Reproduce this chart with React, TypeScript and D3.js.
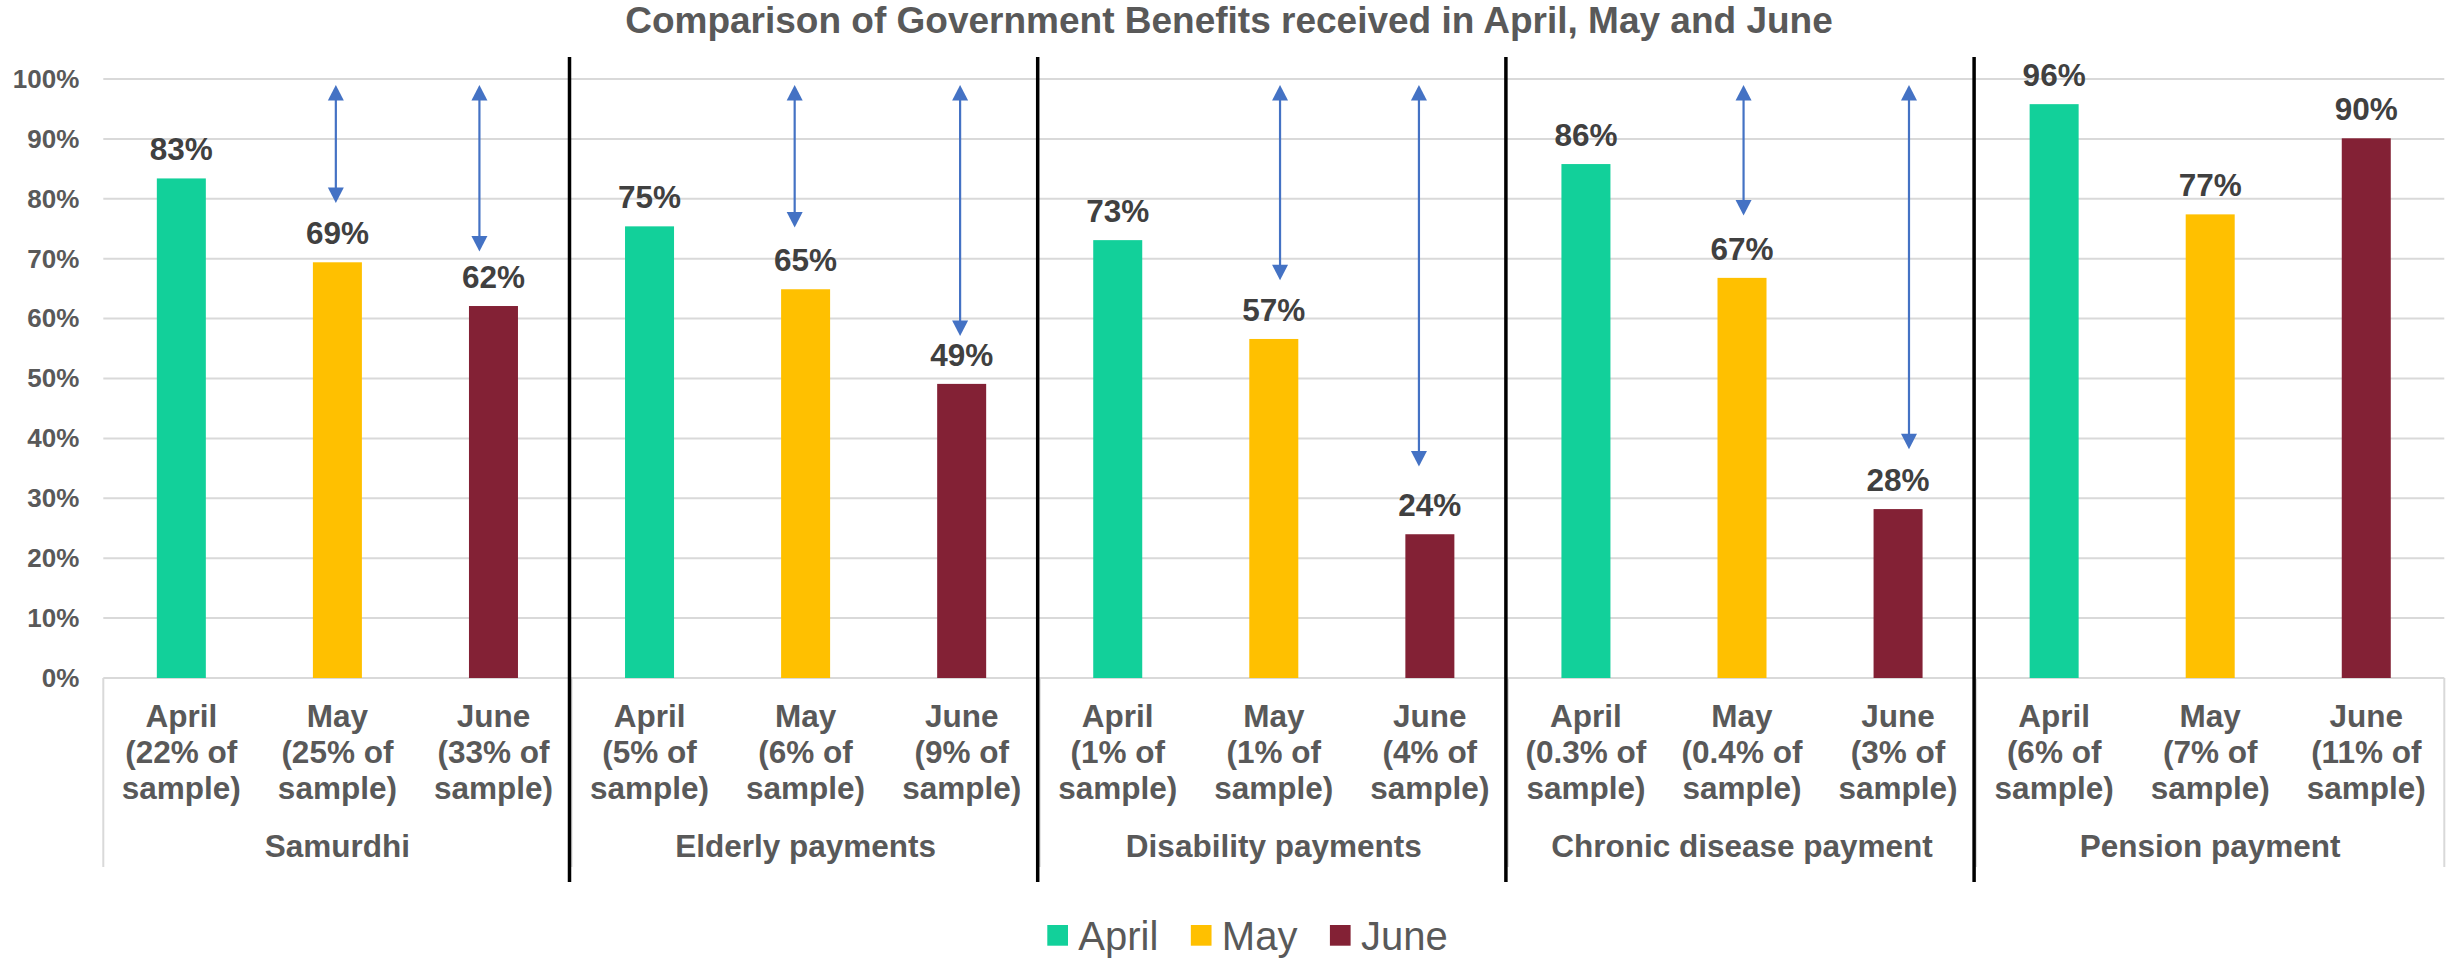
import { useEffect, useRef } from 'react';
import * as d3 from 'd3';

const groups = ['Samurdhi', 'Elderly payments', 'Disability payments', 'Chronic disease payment', 'Pension payment'];
const months = ['April', 'May', 'June'];
const monthColors = ['#12D09A', '#FFC000', '#832135'];

// percent receiving the benefit, per group
const aprilValues = [83.4, 75.4, 73.1, 85.8, 95.8];
const mayValues = [69.4, 64.9, 56.6, 66.8, 77.4];
const juneValues = [62.1, 49.1, 24.0, 28.2, 90.1];

// share of the sample, shown under each month label
const sampleShares = [
  ['22%', '25%', '33%'],
  ['5%', '6%', '9%'],
  ['1%', '1%', '4%'],
  ['0.3%', '0.4%', '3%'],
  ['6%', '7%', '11%']
];

const yTicks = [0, 10, 20, 30, 40, 50, 60, 70, 80, 90, 100];

// drop arrows: from the top of the scale down to the value, shift is a fraction of a slot
const dropArrows = [
  { group: 0, month: 1, from: 99, to: 79.3, shift: -0.01 },
  { group: 0, month: 2, from: 99, to: 71.2, shift: -0.09 },
  { group: 1, month: 1, from: 99, to: 75.2, shift: -0.07 },
  { group: 1, month: 2, from: 99, to: 57.1, shift: -0.01 },
  { group: 2, month: 1, from: 99, to: 66.4, shift: 0.04 },
  { group: 2, month: 2, from: 99, to: 35.3, shift: -0.07 },
  { group: 3, month: 1, from: 99, to: 77.2, shift: 0.01 },
  { group: 3, month: 2, from: 99, to: 38.2, shift: 0.07 }
];

const FONT = '"Liberation Sans", Arial, sans-serif';
const W = 2461;
const H = 959;

export default function App() {
  const svgRef = useRef<SVGSVGElement>(null);

  useEffect(() => {
    if (!svgRef.current) return;
    const svg = d3.select(svgRef.current);
    svg.selectAll('*').remove();

    const left = 103.3;
    const right = 2444.3;
    const y = d3.scaleLinear().domain([0, 100]).range([678, 79]);

    const seriesValues = [aprilValues, mayValues, juneValues];
    const rows = groups.flatMap((g, gi) =>
      months.map((m, mi) => ({ key: `${gi}-${mi}`, group: gi, month: mi, value: seriesValues[mi][gi] }))
    );

    const x = d3.scaleBand<string>()
      .domain(rows.map(r => r.key))
      .range([left, right])
      .paddingInner(0.686)
      .paddingOuter(0.343);
    const step = x.step();
    const center = (k: string) => (x(k) ?? 0) + x.bandwidth() / 2;

    // title
    svg.append('text')
      .attr('x', 1229)
      .attr('y', 33)
      .attr('text-anchor', 'middle')
      .attr('font-family', FONT)
      .attr('font-weight', 'bold')
      .attr('font-size', 37)
      .attr('fill', '#595959')
      .text('Comparison of Government Benefits received in April, May and June');

    // gridlines
    svg.append('g')
      .selectAll('line')
      .data(yTicks)
      .enter()
      .append('line')
      .attr('x1', left)
      .attr('x2', right)
      .attr('y1', d => y(d))
      .attr('y2', d => y(d))
      .attr('stroke', '#D9D9D9')
      .attr('stroke-width', 2);

    // y axis labels
    const yAxis = d3.axisLeft(y)
      .tickValues(yTicks)
      .tickFormat(d => `${d}%`)
      .tickSize(0)
      .tickPadding(24);
    const yg = svg.append('g')
      .attr('transform', `translate(${left},0)`)
      .call(yAxis);
    yg.select('.domain').remove();
    yg.selectAll('text')
      .attr('font-family', FONT)
      .attr('font-weight', 'bold')
      .attr('font-size', 26)
      .attr('fill', '#595959');

    // category axis separators (outer edges and between groups)
    const axisBottom = 867;
    const bounds = d3.range(groups.length + 1).map(i => left + step * 3 * i);
    svg.append('g')
      .selectAll('line')
      .data(bounds)
      .enter()
      .append('line')
      .attr('x1', d => d)
      .attr('x2', d => d)
      .attr('y1', y(0))
      .attr('y2', axisBottom)
      .attr('stroke', '#D9D9D9')
      .attr('stroke-width', 2);

    // bars
    svg.append('g')
      .selectAll('rect')
      .data(rows)
      .enter()
      .append('rect')
      .attr('x', d => x(d.key) ?? 0)
      .attr('y', d => y(d.value))
      .attr('width', x.bandwidth())
      .attr('height', d => y(0) - y(d.value))
      .attr('fill', d => monthColors[d.month]);

    // value labels
    svg.append('g')
      .selectAll('text')
      .data(rows)
      .enter()
      .append('text')
      .attr('x', d => center(d.key))
      .attr('y', d => y(d.value) - 18)
      .attr('text-anchor', 'middle')
      .attr('font-family', FONT)
      .attr('font-weight', 'bold')
      .attr('font-size', 31.5)
      .attr('fill', '#404040')
      .text(d => `${Math.round(d.value)}%`);

    // month / sample labels
    const catLabels = svg.append('g')
      .selectAll('text')
      .data(rows)
      .enter()
      .append('text')
      .attr('text-anchor', 'middle')
      .attr('font-family', FONT)
      .attr('font-weight', 'bold')
      .attr('font-size', 31.5)
      .attr('fill', '#595959');
    catLabels.each(function (d) {
      const t = d3.select(this);
      const lines = [months[d.month], `(${sampleShares[d.group][d.month]} of`, 'sample)'];
      const baselines = [726.7, 763, 798.5];
      lines.forEach((ln, i) => {
        t.append('tspan').attr('x', center(d.key)).attr('y', baselines[i]).text(ln);
      });
    });

    // group labels
    svg.append('g')
      .selectAll('text')
      .data(groups)
      .enter()
      .append('text')
      .attr('x', (_, i) => left + step * (3 * i + 1.5))
      .attr('y', 857)
      .attr('text-anchor', 'middle')
      .attr('font-family', FONT)
      .attr('font-weight', 'bold')
      .attr('font-size', 31.5)
      .attr('fill', '#595959')
      .text(d => d);

    // black dividers between groups
    svg.append('g')
      .selectAll('line')
      .data(bounds.slice(1, -1))
      .enter()
      .append('line')
      .attr('x1', d => d - 2)
      .attr('x2', d => d - 2)
      .attr('y1', 57)
      .attr('y2', 882)
      .attr('stroke', '#000000')
      .attr('stroke-width', 3.5);

    // drop arrows
    const headLen = 15.5;
    const headHalf = 8;
    const arrowColor = '#4472C4';
    const ag = svg.append('g');
    dropArrows.forEach(a => {
      const ax = center(`${a.group}-${a.month}`) + a.shift * step;
      const y1 = y(a.from);
      const y2 = y(a.to);
      ag.append('line')
        .attr('x1', ax)
        .attr('x2', ax)
        .attr('y1', y1 + headLen - 1)
        .attr('y2', y2 - headLen + 1)
        .attr('stroke', arrowColor)
        .attr('stroke-width', 2.2);
      ag.append('path')
        .attr('d', `M${ax},${y1} L${ax - headHalf},${y1 + headLen} L${ax + headHalf},${y1 + headLen} Z`)
        .attr('fill', arrowColor);
      ag.append('path')
        .attr('d', `M${ax},${y2} L${ax - headHalf},${y2 - headLen} L${ax + headHalf},${y2 - headLen} Z`)
        .attr('fill', arrowColor);
    });

    // legend
    const legend = svg.append('g');
    let lx = 1047.3;
    months.forEach((m, i) => {
      legend.append('rect')
        .attr('x', lx)
        .attr('y', 925)
        .attr('width', 20.7)
        .attr('height', 20.7)
        .attr('fill', monthColors[i]);
      const txt = legend.append('text')
        .attr('x', lx + 31)
        .attr('y', 949.5)
        .attr('font-family', FONT)
        .attr('font-size', 40)
        .attr('fill', '#595959')
        .text(m);
      const tw = (txt.node() as SVGTextElement).getComputedTextLength();
      lx = lx + 31 + tw + 32.5;
    });
  }, []);

  return (
    <div style={{ position: 'absolute', left: 0, top: 0 }}>
      <svg ref={svgRef} width={W} height={H} style={{ display: 'block', background: '#ffffff' }} />
    </div>
  );
}
